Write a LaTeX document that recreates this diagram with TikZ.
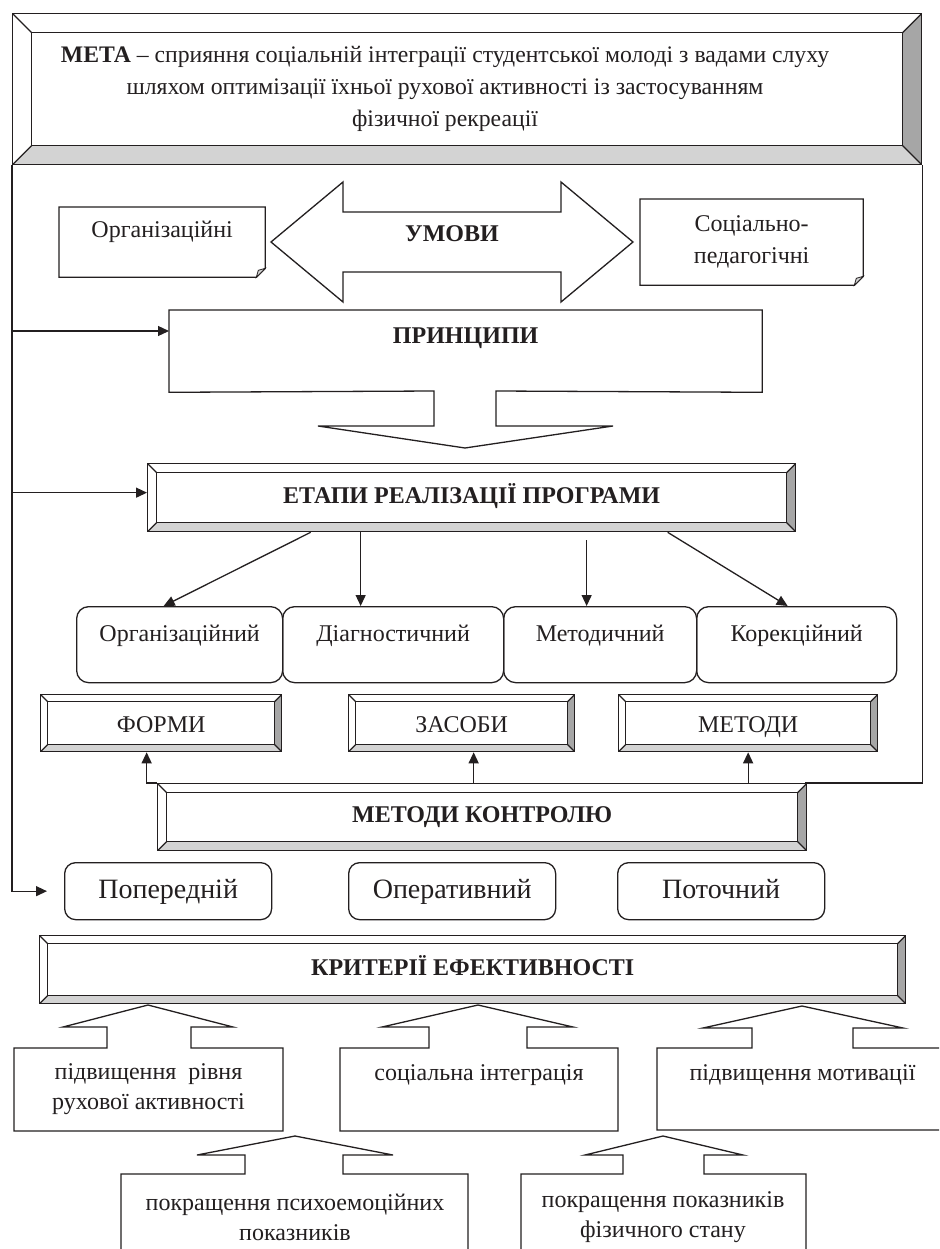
\documentclass[tikz,border=0pt]{standalone}
\usepackage{fontspec}
\setmainfont{Liberation Serif}
\usetikzlibrary{arrows.meta,calc}
\definecolor{bevlight}{HTML}{D3D3D3}
\definecolor{bevdark}{HTML}{A6A6A6}
\definecolor{ink}{HTML}{231F20}
\tikzset{
  txt/.style={font=\fontsize{24}{30}\selectfont},
  boldtxt/.style={font=\fontsize{24}{30}\selectfont\bfseries},
  bevel/.style={draw=ink, inner sep=0pt, path picture={
    \fill[bevlight] (path picture bounding box.south west) -- (path picture bounding box.south east) -- ($(path picture bounding box.south east)+(-#1,#1)$) -- ($(path picture bounding box.south west)+(#1,#1)$) -- cycle;
    \fill[bevdark] (path picture bounding box.south east) -- (path picture bounding box.north east) -- ($(path picture bounding box.north east)+(-#1,-#1)$) -- ($(path picture bounding box.south east)+(-#1,#1)$) -- cycle;
    \draw[ink, line width=1.3pt] ($(path picture bounding box.south west)+(#1,#1)$) rectangle ($(path picture bounding box.north east)+(-#1,-#1)$);
    \draw[ink, line width=1.3pt] (path picture bounding box.south west) -- ++(#1,#1)
       (path picture bounding box.north west) -- ++(#1,-#1)
       (path picture bounding box.north east) -- ++(-#1,-#1)
       (path picture bounding box.south east) -- ++(-#1,#1);
  }},
  stage/.style={draw=ink, rounded corners=12pt, inner sep=0pt, text height=35pt, text depth=41pt, anchor=north west, txt},
  smallbevel/.style={bevel=7pt, text height=38pt, text depth=19pt, anchor=north west, txt},
  ctrl/.style={draw=ink, rounded corners=11pt, inner sep=0pt, minimum width=207pt, text height=36pt, text depth=21pt, anchor=north west, font=\fontsize{28}{34}\selectfont},
  arr/.style={-{Triangle[length=11pt,width=10pt]}},
  fold/.style={fill=bevlight, line width=0.8pt},
}
\newcommand{\drawnotebox}[1]{%
  \draw (#1.north west) -- (#1.north east) -- ([yshift=9pt]#1.south east) -- ([xshift=-9pt]#1.south east) -- (#1.south west) -- cycle;
  \filldraw[fold] ([yshift=9pt]#1.south east) -- ([shift={(-7pt,7pt)}]#1.south east) -- ([xshift=-9pt]#1.south east) -- cycle;}
\begin{document}
\begin{tikzpicture}[x=1pt, y=-1pt, line width=1.3pt, draw=ink, txt, ink]
\useasboundingbox (0,0) rectangle (939,1249);
\clip (0,0) rectangle (939,1249);
\fill[white] (0,0) rectangle (939,1249);

% META
\node[bevel=19pt, minimum width=909pt, minimum height=151pt, anchor=north west] (meta) at (12,13) {};
\node[align=center, font=\fontsize{23.7}{32}\selectfont] (metatext) at (445,89)
  {\textbf{МЕТА} – сприяння соціальній інтеграції студентської молоді з вадами слуху\\шляхом оптимізації їхньої рухової активності із застосуванням\\фізичної рекреації};

% frame
\draw (meta.south east) |- (805,783);

% УМОВИ
\draw (271,242) -- (343,182) -- (343,212) -- (561,212) -- (561,182) -- (633,242) -- (561,302) -- (561,272) -- (343,272) -- (343,302) -- cycle;
\node[anchor=base, boldtxt] (umovy) at (452,242) {УМОВИ};

\node[anchor=north west, minimum width=205pt, inner sep=0pt, text height=30pt, text depth=39pt] (orgc) at (59,207) {Організаційні};
\drawnotebox{orgc}
\node[anchor=north west, minimum width=222pt, minimum height=85pt, inner sep=0pt, align=center, font=\fontsize{24}{32}\selectfont] (socp) at (640,199) {Соціально-\\педагогічні};
\drawnotebox{socp}

% ПРИНЦИПИ
\node[anchor=north west, minimum width=592pt, inner sep=0pt, text height=33pt, text depth=48pt, boldtxt] (princ) at (169,310) {ПРИНЦИПИ};
\draw (princ.north west) -- (princ.north east) -- (princ.south east) -- (496,391) -- (496,426) -- (613,426) -- (465,448) -- (318,426) -- (434,426) -- (434,391) -- (princ.south west) -- cycle;

% ЕТАПИ
\node[bevel=9pt, anchor=north west, minimum width=648pt, text height=40pt, text depth=28pt, boldtxt] (etapy) at (147,463) {ЕТАПИ РЕАЛІЗАЦІЇ ПРОГРАМИ};

\coordinate (pin) at ([yshift=-21pt]princ.north west);
\coordinate (ein) at ([yshift=5pt]etapy.west);
\draw[arr] (meta.south west |- pin) -- (pin);
\draw[arr] (meta.south west |- ein) -- (ein);

% stages
\node[stage, minimum width=206pt] (s1) at (76,606) {Організаційний};
\node[stage, minimum width=221pt] (s2) at (282,606) {Діагностичний};
\node[stage, minimum width=193pt] (s3) at (503,606) {Методичний};
\node[stage, minimum width=200pt] (s4) at (696,606) {Корекційний};

\coordinate (e2) at ([xshift=-111pt]etapy.south);
\coordinate (e3) at ([xshift=115pt, yshift=-8pt]etapy.south);
\draw[arr] ([xshift=-161pt]etapy.south) -- ([xshift=-16pt]s1.north);
\draw[arr] (e2) -- (e2 |- s2.north);
\draw[arr] (e3) -- (e3 |- s3.north);
\draw[arr] ([xshift=196pt]etapy.south) -- ([xshift=-9pt]s4.north);

% forms row
\node[smallbevel, minimum width=241pt] (forms) at (40,694) {ФОРМИ};
\node[smallbevel, minimum width=226pt] (zasoby) at (348,694) {ЗАСОБИ};
\node[smallbevel, minimum width=259pt] (metody) at (618,694) {МЕТОДИ};

% МЕТОДИ КОНТРОЛЮ
\node[bevel=9pt, anchor=north west, minimum width=649pt, text height=39pt, text depth=28pt, boldtxt] (kontrol) at (157,783) {МЕТОДИ КОНТРОЛЮ};

\coordinate (k2) at ([xshift=12pt]zasoby.south);
\draw[arr] (kontrol.north west) -| ([xshift=-14.5pt]forms.south);
\draw[arr] (k2 |- kontrol.north) -- (k2);
\draw[arr] (metody.south |- kontrol.north) -- (metody.south);

% control kinds
\node[ctrl] (poper) at (64,862) {Попередній};
\node[ctrl] (oper) at (348,862) {Оперативний};
\node[ctrl] (potoch) at (617,862) {Поточний};
\draw[arr] (meta.south west) |- ([xshift=-17pt]poper.west);

% КРИТЕРІЇ
\node[bevel=8pt, anchor=north west, minimum width=866pt, text height=40pt, text depth=28pt, boldtxt] (kryt) at (39,935) {КРИТЕРІЇ ЕФЕКТИВНОСТІ};

% callouts
\draw (14,1048) -- (107,1048) -- (107,1027) -- (63,1027) -- (148,1005) -- (233,1027) -- (191,1027) -- (191,1048) -- (283,1048) -- (283,1131) -- (14,1131) -- cycle;
\node[align=center] (c1) at (148.5,1089) {підвищення\ \ рівня\\рухової активності};

\draw (340,1048) -- (429,1048) -- (429,1027) -- (382,1027) -- (478,1005) -- (573,1027) -- (527,1027) -- (527,1048) -- (618,1048) -- (618,1131) -- (340,1131) -- cycle;
\node[anchor=base] (c2) at (479,1080) {соціальна інтеграція};

\draw (657,1048) -- (752,1048) -- (752,1028) -- (703,1028) -- (802,1006) -- (903,1028) -- (853,1028) -- (853,1048) -- (960,1048) -- (960,1130) -- (657,1130) -- cycle;
\node[anchor=base] (c3) at (802.5,1080) {підвищення мотивації};

\draw (121,1270) -- (121,1174) -- (245,1174) -- (245,1155) -- (197,1155) -- (295,1136) -- (393,1155) -- (343,1155) -- (343,1174) -- (468,1174) -- (468,1270);
\node[align=center] (c4) at (295,1217) {покращення психоемоційних\\показників};

\draw (521,1270) -- (521,1174) -- (623,1174) -- (623,1155) -- (585,1155) -- (663,1136) -- (743,1155) -- (704,1155) -- (704,1174) -- (806,1174) -- (806,1270);
\node[align=center] (c5) at (663,1217) {покращення показників\\фізичного стану};
\end{tikzpicture}
\end{document}
